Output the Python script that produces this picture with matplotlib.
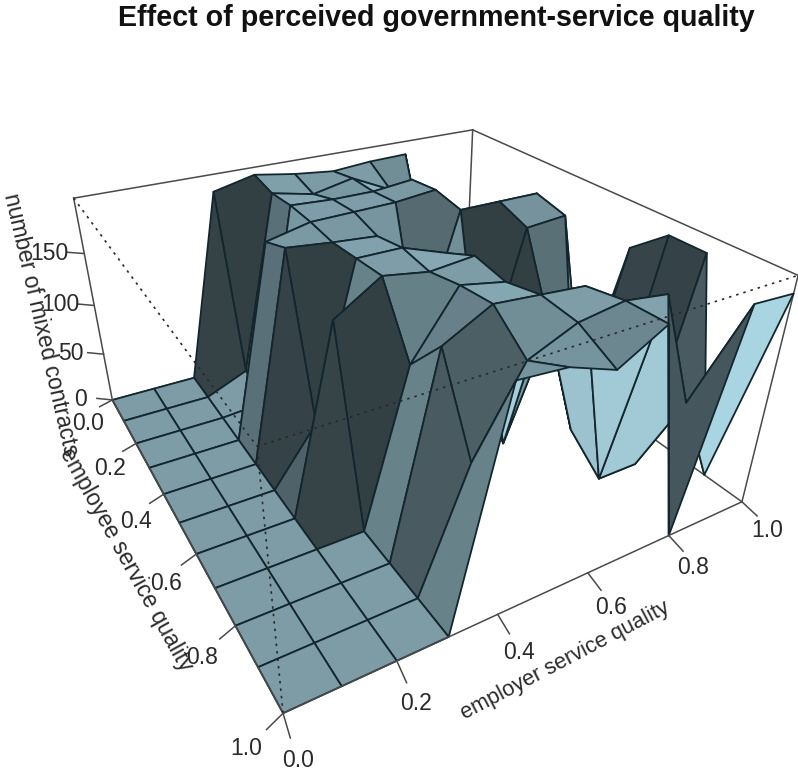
import numpy as np
import matplotlib
matplotlib.use("Agg")
import matplotlib.pyplot as plt
from matplotlib.collections import PolyCollection

plt.rcParams['font.family'] = ['Liberation Sans', 'DejaVu Sans']

# grid of the surface
employer = [0.0, 0.1, 0.2, 0.3, 0.4, 0.5, 0.6, 0.7, 0.8, 0.9, 1.0]
employee = [0.0, 0.1, 0.2, 0.3, 0.4, 0.5, 0.6, 0.7, 0.8, 0.9, 1.0]

# number of mixed contracts, one row per employer value, running along employee
contracts = [
    [0, 0, 0, 0, 0, 0, 0, 0, 0, 0, 0],
    [0, 0, 0, 0, 0, 0, 0, 0, 0, 0, 0],
    [0, 0, 0, 0, 0, 0, 0, 0, 0, 0, 0],
    [184, 17, 3, 180, 190, 52, 165, 0, 0, 0, 0],
    [193, 188, 190, 189, 186, 188, 190, 137, 172, 103, 189],
    [187, 180, 188, 190, 183, 188, 184, 190, 193, 170, 186],
    [183, 188, 188, 191, 72, 175, 188, 183, 190, 187, 172],
    [186, 170, 192, 195, 190, 40, 0, 150, 187, 193, 194],
    [187, 100, 0, 0, 190, 180, 105, 25, 0, 188, 0],
    [0, 0, 0, 0, 190, 183, 0, 0, 0, 85, 188],
    [0, 0, 0, 0, 0, 0, 160, 186, 186, 0, 186],
]

x_ticks = [0.0, 0.2, 0.4, 0.6, 0.8, 1.0]
y_ticks = [0.0, 0.2, 0.4, 0.6, 0.8, 1.0]
z_ticks = [0, 50, 100, 150]
z_top = 200

# where the box corners land in the picture, the camera is fitted to these
box_world = [(0, 0, 0), (0, 1, 0), (1, 1, 0), (1, 0, 0),
             (0, 0, z_top), (0, 1, z_top), (1, 1, z_top), (1, 0, z_top)]
box_pixel = [(113, 400), (283, 713), (743, 502), (464, 304),
             (73, 198), (257, 447), (797, 275), (474, 130)]

# cells whose shade does not follow the normal
dark = 0.29
shade_fix = {
    (2, 1): 0.72, (2, 2): 0.72,
    (2, 3): 0.52, (3, 1): 0.52, (3, 2): 0.70,
    (3, 0): dark, (3, 4): dark, (3, 6): dark, (7, 4): dark,
    (3, 7): 0.60, (3, 8): 0.42, (3, 9): 0.60, (6, 4): 0.66,
    (7, 7): 0.90, (7, 8): 0.93, (8, 7): 0.90, (8, 8): 0.93,
    (8, 9): 0.40, (9, 8): 0.42,
}

base_colour = np.array([173, 216, 230]) / 255
light = np.array([0.85, -0.55, 0.04])
line_colour = '#13262e'
box_colour = '#4a4a4a'


def fit_camera(world, pixel):
    rows = []
    for (x, y, z), (u, v) in zip(world, pixel):
        rows.append([x, y, z, 1, 0, 0, 0, 0, -u*x, -u*y, -u*z, -u])
        rows.append([0, 0, 0, 0, x, y, z, 1, -v*x, -v*y, -v*z, -v])
    return np.linalg.svd(np.array(rows, float))[2][-1].reshape(3, 4)


cam = fit_camera(box_world, box_pixel)


def project(x, y, z):
    p = cam @ np.array([x, y, z, 1.0])
    return p[0] / p[2], p[1] / p[2]


def cell_colour(i, j):
    if (i, j) in shade_fix:
        return base_colour * shade_fix[(i, j)]
    dx = employer[i+1] - employer[i]
    dy = employee[j+1] - employee[j]
    dzx = (contracts[i+1][j] - contracts[i][j]) / z_top * 0.4
    dzy = (contracts[i][j+1] - contracts[i][j]) / z_top * 0.4
    n = np.array([-dzx * dy, -dzy * dx, dx * dy])
    n = n / np.linalg.norm(n)
    return base_colour * np.sqrt(np.clip((1 + n @ light) / 2, 0.085, 1))


fig = plt.figure(figsize=(7.98, 7.71), dpi=100)
ax = fig.add_axes([0, 0, 1, 1])
ax.set_xlim(0, 798)
ax.set_ylim(771, 0)
ax.axis('off')


def box_line(a, b, **kw):
    pa = project(*a)
    pb = project(*b)
    ax.plot([pa[0], pb[0]], [pa[1], pb[1]], **kw)


# back of the box
solid = dict(color=box_colour, lw=1.1, zorder=1)
box_line((0, 0, 0), (1, 0, 0), **solid)
box_line((1, 0, 0), (1, 1, 0), **solid)
box_line((0, 0, 0), (0, 0, z_top), **solid)
box_line((1, 0, 0), (1, 0, z_top), **solid)
box_line((1, 1, 0), (1, 1, z_top), **solid)
box_line((0, 0, z_top), (1, 0, z_top), **solid)
box_line((1, 0, z_top), (1, 1, z_top), **solid)

# surface, back corner first
polys = []
colours = []
for i in range(len(employer) - 2, -1, -1):
    for j in range(len(employee) - 1):
        polys.append([project(employer[a], employee[b], contracts[a][b])
                      for a, b in [(i, j), (i+1, j), (i+1, j+1), (i, j+1)]])
        colours.append(cell_colour(i, j))
ax.add_collection(PolyCollection(polys, facecolors=colours, edgecolors=line_colour,
                                 linewidths=1.3, zorder=2))

# front of the box
front = dict(color=box_colour, lw=1.1, zorder=3)
box_line((0, 0, 0), (0, 1, 0), **front)
box_line((0, 1, 0), (1, 1, 0), **front)
dotted = dict(color='#2a2a2a', lw=1.2, ls=(0, (1.5, 3)), zorder=3)
box_line((0, 1, 0), (0, 1, z_top), **dotted)
box_line((0, 0, z_top), (0, 1, z_top), **dotted)
box_line((0, 1, z_top), (1, 1, z_top), **dotted)

# ticks and their labels
text = dict(color='#2a2a2a', ha='center', va='center', zorder=4)
for t in x_ticks:
    box_line((t, 1, 0), (t - 0.008, 1.045, 0), **front)
    ax.text(*project(t - 0.013 - 0.012 * t, 1.085, 0), f'{t:.1f}', fontsize=16.5, **text)
for t in y_ticks:
    box_line((0, t, 0), (-0.033, t + 0.014, 0), **front)
    ax.text(*project(-0.072, t + 0.029 + 0.04 * (1 - t), 0), f'{t:.1f}', fontsize=16.5, **text)
for t in z_ticks:
    box_line((0, 0, t), (-0.03, -0.025, t), **front)
    ax.text(*project(-0.065, -0.04, t), str(t), fontsize=16.5, **text)

ax.text(565, 661, 'employer service quality', rotation=27.7, rotation_mode='anchor',
        fontsize=15.7, **text)
ax.text(126, 560, 'employee service quality', rotation=-61, rotation_mode='anchor',
        fontsize=16.6, **text)
ax.text(41, 325, 'number of mixed contracts', rotation=-77, rotation_mode='anchor',
        fontsize=16.4, **text)
ax.text(436, 18, 'Effect of perceived government-service quality', fontsize=20.6,
        fontweight='bold', color='#111111', ha='center', va='center')

fig.savefig('out.png', dpi=100)
